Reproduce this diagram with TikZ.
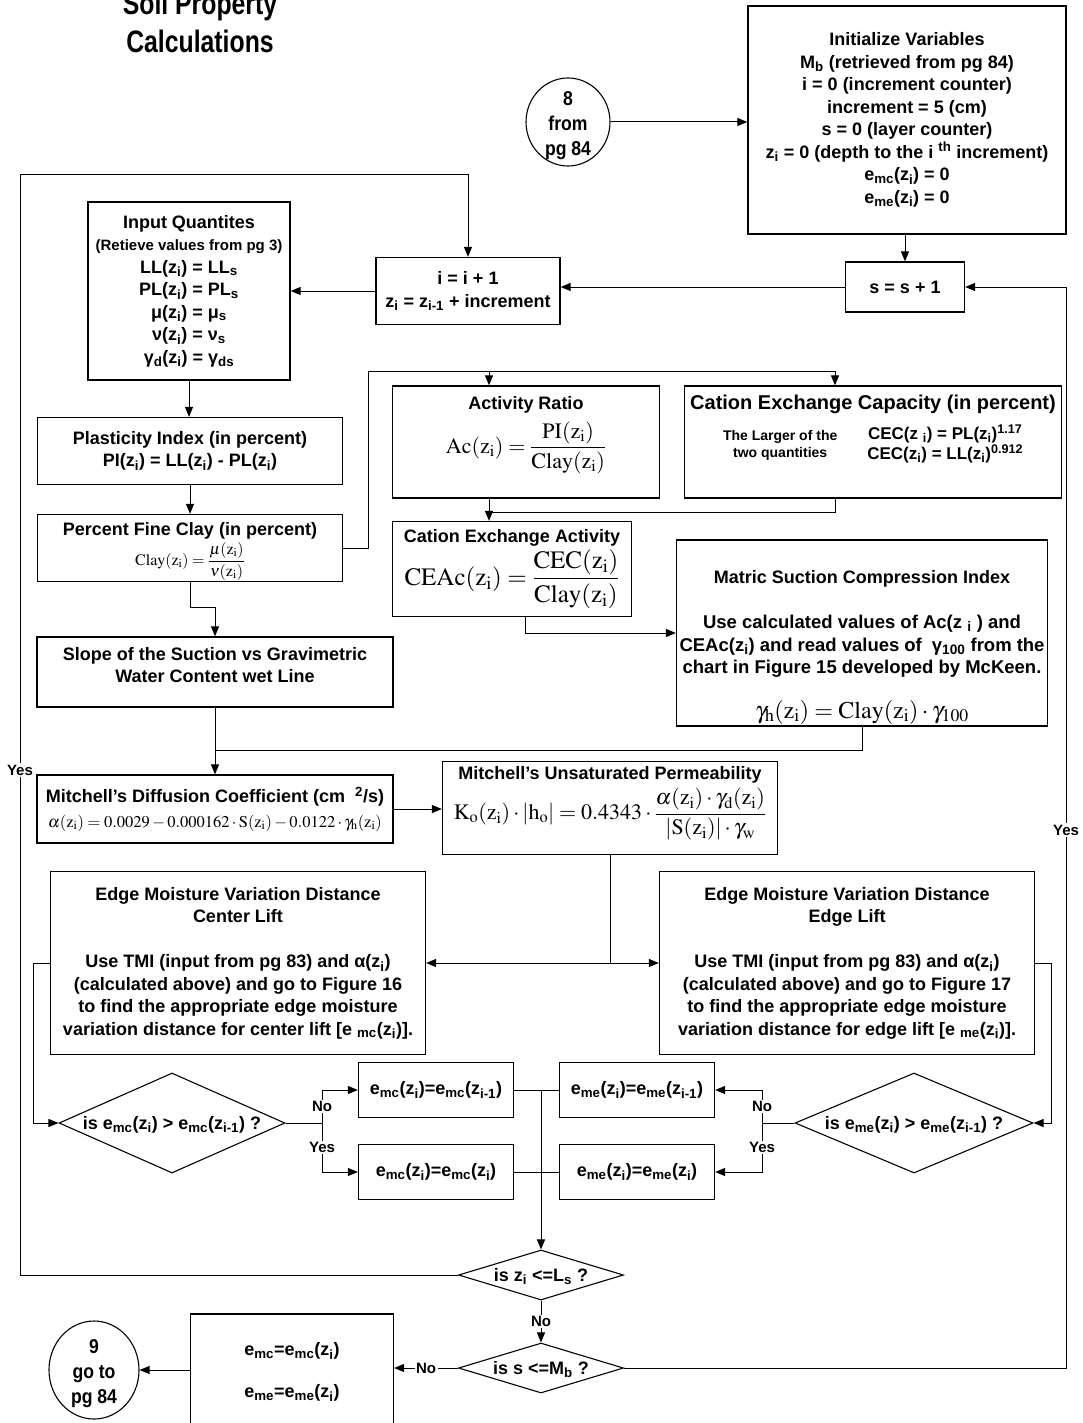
\documentclass[tikz,border=0pt]{standalone}
\usepackage{mathptmx}
\usepackage[no-math]{fontspec}
\setmainfont{Liberation Sans}
\newfontfamily\titlefont{Liberation Sans}[FakeStretch=0.8]
\newfontfamily\ovalfont{Liberation Sans}[FakeStretch=0.88]
\usetikzlibrary{shapes.geometric,arrows.meta}
\newcommand{\zs}[1]{\textsubscript{#1}}
\newcommand{\zsp}[1]{\textsuperscript{#1}}
\newcommand{\zi}{z\zs{i}}
\newcommand{\ctr}[1]{\smash{\makebox[0pt]{\raisebox{-0.35em}{#1}}}}
\newcommand{\ctrt}[1]{\smash{\makebox[0pt]{\raisebox{-0.42em}{#1}}}}
\newcommand{\tbox}[4]{\parbox[c][#2][t]{#1}{\centering\vspace*{#3}#4}}
\begin{document}
\begin{tikzpicture}[x=1pt,y=-1pt,
  box/.style={draw, line width=1.3pt, inner sep=0pt, align=center, font=\bfseries\fontsize{18}{22.5}\selectfont},
  sz/.style 2 args={minimum width=#1pt, minimum height=#2pt},
  dia/.style={draw, diamond, line width=1.1pt, inner sep=0pt, font=\bfseries\fontsize{18}{22}\selectfont},
  oval/.style={draw, ellipse, line width=1.1pt, inner sep=0pt, font=\ovalfont\bfseries\fontsize{20}{25}\selectfont},
  ln/.style={line width=1pt},
  arr/.style={line width=1pt, -{Triangle[length=10pt,width=8pt]}},
  lbl/.style={fill=white, inner sep=1.5pt, font=\bfseries\fontsize{15}{18}\selectfont}]
\useasboundingbox (0,0) rectangle (1082,1423);

\node[font=\titlefont\bfseries\fontsize{31}{38}\selectfont, align=center] (title) at (200,22) {Soil Property\\Calculations};

\node[oval, minimum width=84pt, minimum height=88pt] (c8) at (568,122) {\ctrt{\begin{tabular}{@{}c@{}}8\\from\\pg 84\end{tabular}}};

\node[box, sz={318}{228}] (init) at (907,120) {Initialize Variables\\ M\zs{b} (retrieved from pg 84)\\ i = 0 (increment counter)\\ increment = 5 (cm)\\ s = 0 (layer counter)\\ \zi{} = 0 (depth to the i \zsp{th} increment)\\ e\zs{mc}(\zi) = 0\\ e\zs{me}(\zi) = 0};

\node[box, sz={119}{50}] (sb) at (905,287) {s = s + 1};
\node[box, sz={184}{67}] (ib) at (468,291) {i = i + 1\\ \zi{} = z\zs{i-1} + increment};

\node[box, sz={202}{178}] (inq) at (189,291) {Input Quantites\\ {\fontsize{15}{23}\selectfont (Retieve values from pg 3)}\\ LL(\zi) = LL\zs{s}\\ PL(\zi) = PL\zs{s}\\ μ(\zi) = μ\zs{s}\\ ν(\zi) = ν\zs{s}\\ γ\zs{d}(\zi) = γ\zs{ds}};

\node[box, sz={305}{67}] (pi) at (190,451) {Plasticity Index (in percent)\\ PI(\zi) = LL(\zi) - PL(\zi)};

\node[box, sz={305}{67}] (pfc) at (190,548) {\tbox{300pt}{67pt}{8pt}{Percent Fine Clay (in percent)\\[2pt] {\fontsize{16}{18}\selectfont $\displaystyle\mathrm{Clay(z_i)} = \frac{\mu(\mathrm{z_i})}{\nu(\mathrm{z_i})}$}}};

\node[box, sz={356}{70}] (slope) at (215,672) {Slope of the Suction vs Gravimetric\\ Water Content wet Line\\[-8pt]\mbox{}};

\node[box, sz={267}{112}] (act) at (526,442) {\tbox{260pt}{112pt}{10pt}{Activity Ratio\\[8pt] {\fontsize{22}{26}\selectfont $\displaystyle\mathrm{Ac(z_i)} = \frac{\mathrm{PI(z_i)}}{\mathrm{Clay(z_i)}}$}}};

\node[box, sz={377}{112}] (cec) at (873,442) {\tbox{370pt}{112pt}{9pt}{{\fontsize{20}{24}\selectfont Cation Exchange Capacity (in percent)}\\[10pt] {\fontsize{14}{17}\selectfont\begin{tabular}{@{}c@{}}The Larger of the\\ two quantities\end{tabular}}\hspace{30pt}{\fontsize{17}{17}\selectfont\begin{tabular}{@{}c@{}}CEC(z \zs{i}) = PL(\zi)\zsp{1.17}\\ CEC(\zi) = LL(\zi)\zsp{0.912}\end{tabular}}}};

\node[box, sz={239}{95}] (ceac) at (512,569) {\tbox{235pt}{95pt}{8pt}{Cation Exchange Activity\\[2pt] {\fontsize{25}{28}\selectfont $\displaystyle\mathrm{CEAc(z_i)} = \frac{\mathrm{CEC(z_i)}}{\mathrm{Clay(z_i)}}$}}};

\node[box, sz={371}{186}] (msc) at (862,633) {\tbox{365pt}{186pt}{30pt}{Matric Suction Compression Index\\[22pt] {\fontsize{18.5}{23}\selectfont Use calculated values of Ac(z \zs{i} ) and\\ CEAc(\zi) and read values of~ γ\zs{100} from the\\ chart in Figure 15 developed by McKeen.}\\[22pt] {\fontsize{24}{26}\selectfont $\gamma_\mathrm{h}(\mathrm{z_i}) = \mathrm{Clay(z_i)}\cdot\gamma_{100}$}}};

\node[box, sz={356}{68}] (mdc) at (215,809) {Mitchell's Diffusion Coefficient (cm\hspace{10pt}\zsp{2}/s)\\[2pt] {\fontsize{16.5}{20}\selectfont $\alpha(\mathrm{z_i}) = 0.0029 - 0.000162\cdot\mathrm{S(z_i)} - 0.0122\cdot\gamma_\mathrm{h}(\mathrm{z_i})$}};

\node[box, sz={335}{93}] (mup) at (610,808) {\tbox{330pt}{93pt}{5pt}{Mitchell's Unsaturated Permeability\\[4pt] {\fontsize{22}{26}\selectfont $\displaystyle\mathrm{K_o(z_i)}\cdot|\mathrm{h_o}| = 0.4343\cdot\frac{\alpha(\mathrm{z_i})\cdot\gamma_\mathrm{d}(\mathrm{z_i})}{|\mathrm{S(z_i)}|\cdot\gamma_\mathrm{w}}$}}};

\node[box, sz={375}{183}] (clift) at (238,963) {Edge Moisture Variation Distance\\ Center Lift\\[22.5pt] Use TMI (input from pg 83) and α(\zi)\\ (calculated above) and go to Figure 16\\ to find the appropriate edge moisture\\ variation distance for center lift [e \zs{mc}(\zi)].};

\node[box, sz={375}{183}] (elift) at (847,963) {Edge Moisture Variation Distance\\ Edge Lift\\[22.5pt] Use TMI (input from pg 83) and α(\zi)\\ (calculated above) and go to Figure 17\\ to find the appropriate edge moisture\\ variation distance for edge lift [e \zs{me}(\zi)].};

\node[dia, minimum width=226pt, minimum height=100pt] (d1) at (172,1123) {\ctr{is e\zs{mc}(\zi) > e\zs{mc}(z\zs{i-1}) ?}};
\node[dia, minimum width=238pt, minimum height=100pt] (d2) at (914,1123) {\ctr{is e\zs{me}(\zi) > e\zs{me}(z\zs{i-1}) ?}};

\node[box, sz={155}{55}] (mcA) at (436,1090) {e\zs{mc}(\zi)=e\zs{mc}(z\zs{i-1})};
\node[box, sz={155}{55}] (mcB) at (436,1172) {e\zs{mc}(\zi)=e\zs{mc}(\zi)};
\node[box, sz={155}{55}] (meA) at (637,1090) {e\zs{me}(\zi)=e\zs{me}(z\zs{i-1})};
\node[box, sz={155}{55}] (meB) at (637,1172) {e\zs{me}(\zi)=e\zs{me}(\zi)};

\node[dia, minimum width=165pt, minimum height=50pt] (dz) at (541,1275) {\ctr{is \zi{} <=L\zs{s} ?}};
\node[dia, minimum width=165pt, minimum height=50pt] (ds) at (541,1368) {\ctr{is s <=M\zs{b} ?}};

\node[box, sz={203}{116}] (fin) at (292,1372) {e\zs{mc}=e\zs{mc}(\zi)\\[19.5pt] e\zs{me}=e\zs{me}(\zi)};
\node[oval, minimum width=90pt, minimum height=98pt] (c9) at (94,1370) {\ctrt{\begin{tabular}{@{}c@{}}9\\go to\\pg 84\end{tabular}}};

% connectors
\draw[arr] (c8.east) -- (c8.east -| init.west);
\draw[arr] (init.south -| sb.north) -- (sb.north);
\draw[arr] (sb.west) -- (sb.west -| ib.east);
\draw[arr] (ib.west) -- (ib.west -| inq.east);
\draw[arr] (inq.south) -- (inq.south |- pi.north);
\draw[arr] (pi.south) -- (pfc.north);
\coordinate (t1) at (368,371);
\coordinate (t1b) at (835,371);
\coordinate (aIn) at (489,371);
\draw[arr] (pfc.east) -| (t1) -- (t1b) -- (t1b |- cec.north);
\draw[arr] (aIn) -- (aIn |- act.north);
\draw[arr] (aIn |- act.south) -- (aIn |- ceac.north);
\coordinate (t2) at (489,512);
\draw[ln] (t1b |- cec.south) |- (t2);
\coordinate (t3) at (525,633);
\draw[arr] (t3 |- ceac.south) -- (t3) -- (t3 -| msc.west);
\draw[arr] (pfc.south) -- ++(0,25) -| (slope.north);
\draw[arr] (slope.south) -- (mdc.north);
\coordinate (t4) at (215,750);
\draw[ln] (msc.south) |- (t4);
\draw[arr] (mdc.east) -- (mdc.east -| mup.west);
\coordinate (t5) at (610,963);
\draw[ln] (mup.south) -- (t5);
\draw[arr] (t5) -- (clift.east);
\draw[arr] (t5) -- (elift.west);
\draw[arr] (clift.west) -- ++(-16,0) |- (d1.west);
\draw[arr] (elift.east) -- ++(16,0) |- (d2.east);
\coordinate (t6) at (322,1123);
\draw[ln] (d1.east) -- (t6);
\draw[arr] (t6) |- node[lbl, pos=0.25]{No} (mcA.west);
\draw[arr] (t6) |- node[lbl, pos=0.25]{Yes} (mcB.west);
\coordinate (t7) at (762,1123);
\draw[ln] (d2.west) -- (t7);
\draw[arr] (t7) |- node[lbl, pos=0.25]{No} (meA.east);
\draw[arr] (t7) |- node[lbl, pos=0.25]{Yes} (meB.east);
\draw[ln] (mcA.east) -- (meA.west);
\draw[ln] (mcB.east) -- (meB.west);
\coordinate (t8) at (541,1090);
\draw[arr] (t8) -- (dz.north);
\coordinate (t9) at (20,175);
\draw[arr] (dz.west) -| (t9) -| (ib.north);
\node[lbl] (yesL) at (20,770) {Yes};
\draw[arr] (dz.south) -- node[lbl]{No} (ds.north);
\coordinate (t10) at (1066,1368);
\draw[arr] (ds.east) -- (t10) |- (sb.east);
\node[lbl] (yesR) at (1066,830) {Yes};
\draw[arr] (ds.west) -- node[lbl]{No} (ds.west -| fin.east);
\draw[arr] (c9.east -| fin.west) -- (c9.east);
\end{tikzpicture}
\end{document}
